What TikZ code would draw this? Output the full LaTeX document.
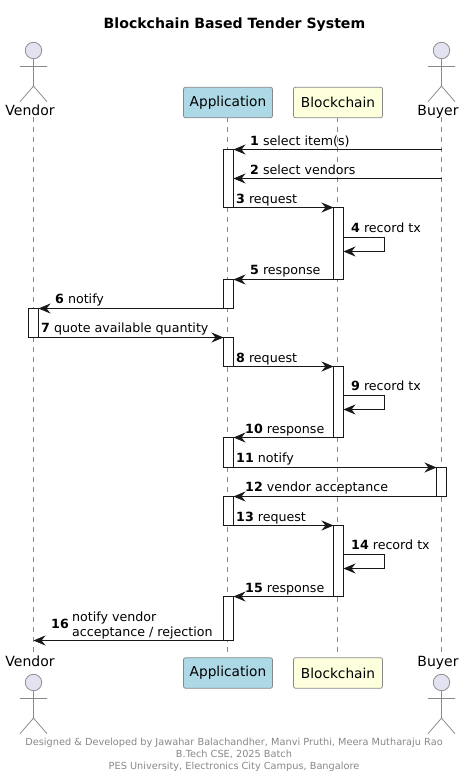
\documentclass[tikz,border=0pt]{standalone}
\usepackage{fontspec}
\setmainfont{DejaVu Sans}
\usetikzlibrary{arrows.meta}
\definecolor{linec}{HTML}{181818}
\definecolor{grayc}{HTML}{888888}
\definecolor{actorfill}{HTML}{E2E2F0}
\definecolor{appfill}{HTML}{ADD8E6}
\definecolor{bcfill}{HTML}{FEFFDD}
\tikzset{
  x=1pt,y=-1pt,
  lifeline/.style={draw=grayc,line width=0.75pt,dash pattern=on 5pt off 5pt},
  msg/.style={draw=linec,line width=0.75pt,-{Stealth[length=12pt,width=10pt,inset=4pt]}},
  bar/.style={draw=linec,line width=0.75pt,fill=white,minimum width=10pt,inner sep=0pt,outer sep=0pt},
  partbox/.style={draw=grayc,line width=0.75pt,rounded corners=2pt,minimum width=89pt,minimum height=30.5pt,inner sep=0pt,font=\fontsize{13.7}{16}\selectfont,text=black},
  actorname/.style={inner sep=0pt,font=\fontsize{14}{16}\selectfont,text=black,anchor=base},
  lab/.style={inner sep=0pt,anchor=base west,font=\fontsize{12.65}{15}\selectfont,text=black},
  stick/.style={draw=grayc,line width=0.75pt},
  head/.style={draw=grayc,line width=0.75pt,fill=actorfill},
  foot/.style={inner sep=0pt,anchor=base,font=\fontsize{9.75}{12}\selectfont,text=grayc},
}
\newcommand{\stickman}[3]{%
  \node[head,circle,minimum size=16.5pt,inner sep=0pt] (#3) at (#1,#2) {};
  \draw[stick] (#3.south) -- +(0,27) coordinate (#3hip)
    (#1-13.5,#2+16) -- (#1+13.5,#2+16)
    (#3hip) -- +(-13.5,15.5) (#3hip) -- +(13.5,15.5);
}
\newcommand{\barnode}[4]{\node[bar,minimum height=#4-#3,anchor=north] (#1) at (#2,#3) {};}
\begin{document}
\begin{tikzpicture}
\useasboundingbox (0,0) rectangle (464,777);
\node[inner sep=0pt,anchor=base,font=\fontsize{14.1}{16}\selectfont\bfseries] (title) at (234.5,28) {Blockchain Based Tender System};
% lifelines
\coordinate (vt) at (33.5,117); \coordinate (vb) at (33.5,654);
\coordinate (at) at (227.5,117); \coordinate (ab) at (227.5,654);
\coordinate (bt) at (337.5,117); \coordinate (bb) at (337.5,654);
\coordinate (ut) at (441.5,117); \coordinate (ub) at (441.5,654);
\draw[lifeline] (vt) -- (vb); \draw[lifeline] (at) -- (ab);
\draw[lifeline] (bt) -- (bb); \draw[lifeline] (ut) -- (ub);
% participants
\stickman{33.5}{50.5}{vh1}
\stickman{441.5}{50.5}{uh1}
\node[actorname] (v1) at (30,115) {Vendor};
\node[actorname] (u1) at (438,115) {Buyer};
\node[partbox,fill=appfill] (a1) at (228,102.5) {Application};
\node[partbox,fill=bcfill] (b1) at (338,102.5) {Blockchain};
\node[partbox,fill=appfill] (a2) at (228,673) {Application};
\node[partbox,fill=bcfill] (b2) at (338,673) {Blockchain};
\node[actorname] (v2) at (30,666) {Vendor};
\node[actorname] (u2) at (438,666) {Buyer};
\stickman{33.5}{682.5}{vh2}
\stickman{441.5}{682.5}{uh2}
% bars
\barnode{A1}{228.5}{149.5}{207.5}
\barnode{B1}{338.5}{207.5}{279.5}
\barnode{A2}{228.5}{279.5}{308.5}
\barnode{V1}{33.5}{308.5}{337.5}
\barnode{A3}{228.5}{337.5}{366.5}
\barnode{B2}{338.5}{366.5}{437.5}
\barnode{A4}{228.5}{437.5}{467.5}
\barnode{U1}{441.5}{467.5}{496.5}
\barnode{A5}{228.5}{496.5}{525.5}
\barnode{B3}{338.5}{525.5}{596.5}
\barnode{A6}{228.5}{596.5}{640.5}
% free ends
\coordinate (u149) at (441.5,149.5);
\coordinate (u178) at (441.5,178.5);
\coordinate (a178) at (233.5,178.5);
\coordinate (v640) at (33.5,640.5);
% messages
\draw[msg] (u149) -- (A1.north east);
\draw[msg] (u178) -- (a178);
\draw[msg] (A1.south east) -- (B1.north west);
\draw[msg] (B1.east |- 0,237.5) -- ++(41,0) -- ++(0,14) -- (B1.east |- 0,251.5);
\draw[msg] (B1.south west) -- (A2.north east);
\draw[msg] (A2.south west) -- (V1.north east);
\draw[msg] (V1.south east) -- (A3.north west);
\draw[msg] (A3.south east) -- (B2.north west);
\draw[msg] (B2.east |- 0,395.5) -- ++(41,0) -- ++(0,14) -- (B2.east |- 0,409.5);
\draw[msg] (B2.south west) -- (A4.north east);
\draw[msg] (A4.south east) -- (U1.north west);
\draw[msg] (U1.south west) -- (A5.north east);
\draw[msg] (A5.south east) -- (B3.north west);
\draw[msg] (B3.east |- 0,554.5) -- ++(41,0) -- ++(0,14) -- (B3.east |- 0,568.5);
\draw[msg] (B3.south west) -- (A6.north east);
\draw[msg] (A6.south west) -- (v640);
% labels
\node[lab] (m1) at (250,145) {\textbf{1} select item(s)};
\node[lab] (m2) at (250,174) {\textbf{2} select vendors};
\node[lab] (m3) at (236,203) {\textbf{3} request};
\node[lab] (m4) at (351,232) {\textbf{4} record tx};
\node[lab] (m5) at (250,274) {\textbf{5} response};
\node[lab] (m6) at (55,303) {\textbf{6} notify};
\node[lab] (m7) at (41,332) {\textbf{7} quote available quantity};
\node[lab] (m8) at (236,362) {\textbf{8} request};
\node[lab] (m9) at (351,390) {\textbf{9} record tx};
\node[lab] (m10) at (245,433) {\textbf{10} response};
\node[lab] (m11) at (236,462) {\textbf{11} notify};
\node[lab] (m12) at (245,491) {\textbf{12} vendor acceptance};
\node[lab] (m13) at (236,521) {\textbf{13} request};
\node[lab] (m14) at (351,549) {\textbf{14} record tx};
\node[lab] (m15) at (245,592) {\textbf{15} response};
\node[lab] (m16) at (51,628) {\textbf{16}};
\node[lab] (m16a) at (72,621) {notify vendor};
\node[lab] (m16b) at (72,636) {acceptance / rejection};
% footer
\node[foot] (f1) at (234,745) {Designed \& Developed by Jawahar Balachandher, Manvi Pruthi, Meera Mutharaju Rao};
\node[foot] (f2) at (234,757) {B.Tech CSE, 2025 Batch};
\node[foot] (f3) at (234,769) {PES University, Electronics City Campus, Bangalore};
\end{tikzpicture}
\end{document}
